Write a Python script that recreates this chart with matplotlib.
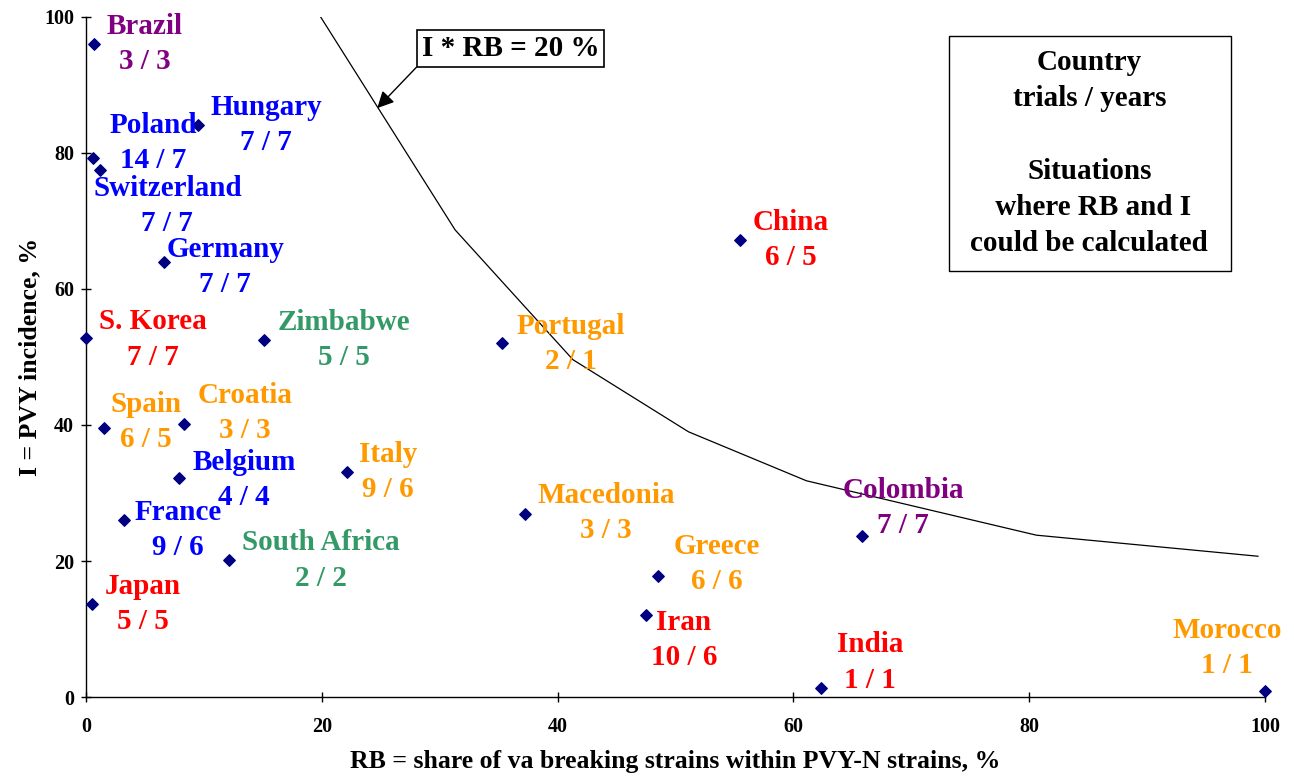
import matplotlib
matplotlib.use("Agg")
import matplotlib.pyplot as plt
from matplotlib.patches import Rectangle

plt.rcParams['font.family'] = ['Liberation Serif', 'DejaVu Serif']
plt.rcParams['font.weight'] = 'bold'

# data
countries = ["Brazil", "Hungary", "Poland", "Switzerland", "Germany", "S. Korea",
             "Zimbabwe", "Spain", "Croatia", "Belgium", "France", "South Africa",
             "Japan", "Italy", "Portugal", "Macedonia", "Greece", "Iran",
             "China", "Colombia", "India", "Morocco"]
trials_years = ["3 / 3", "7 / 7", "14 / 7", "7 / 7", "7 / 7", "7 / 7",
                "5 / 5", "6 / 5", "3 / 3", "4 / 4", "9 / 6", "2 / 2",
                "5 / 5", "9 / 6", "2 / 1", "3 / 3", "6 / 6", "10 / 6",
                "6 / 5", "7 / 7", "1 / 1", "1 / 1"]
rb = [0.65, 9.5, 0.6, 1.2, 6.6, 0.0, 15.1, 1.55, 8.35, 7.9, 3.2, 12.1,
      0.5, 22.1, 35.3, 37.2, 48.5, 47.5, 55.5, 65.8, 62.3, 100.0]
incidence = [96.0, 84.1, 79.3, 77.5, 64.0, 52.8, 52.5, 39.6, 40.2, 32.2, 26.0, 20.1,
             13.7, 33.1, 52.0, 26.9, 17.8, 12.1, 67.2, 23.7, 1.3, 0.9]
groups = ["purple", "blue", "blue", "blue", "blue", "red",
          "green", "orange", "orange", "blue", "blue", "green",
          "red", "orange", "orange", "orange", "orange", "red",
          "red", "purple", "red", "orange"]

# I * RB = 20 % line as drawn
curve_rb = [19.9, 31.3, 41.3, 51.1, 61.1, 80.6, 99.4]
curve_i = [100.0, 68.7, 49.6, 39.0, 31.8, 23.8, 20.7]

group_colors = {"purple": "#800080", "blue": "#0000FF", "red": "#FF0000",
                "orange": "#FF9900", "green": "#339966"}

# where each label sits relative to its point (data units)
label_offsets = [(4.35, 0), (5.8, 0), (5.1, 2.2), (5.7, -5.3), (5.2, -0.8), (5.7, -0.2),
                 (6.8, 0), (3.55, 0.8), (5.15, 1.6), (5.5, -0.3), (4.6, -1.4), (7.8, 0),
                 (4.3, 0), (3.5, 0), (5.8, -0.1), (6.9, 0.2), (5.0, 1.8), (3.2, -3.7),
                 (4.3, 0), (3.5, 4.1), (4.2, 3.8), (-3.2, 6.3)]

fig = plt.figure(figsize=(12.94, 7.76), dpi=100)
ax = fig.add_axes([0.0665, 0.1018, 0.9111, 0.8763])

ax.plot(curve_rb, curve_i, color="black", lw=0.9, zorder=2)
ax.scatter(rb, incidence, marker="D", s=34, color="#000080", zorder=3, clip_on=False)

for name, ty, x, y, g, (dx, dy) in zip(countries, trials_years, rb, incidence, groups, label_offsets):
    ax.text(x + dx, y + dy, name + "\n" + ty, color=group_colors[g], fontsize=21,
            fontweight="bold", ha="center", va="center", linespacing=1.4, zorder=4)

ax.annotate("I * RB = 20 %", xy=(24.7, 86.6), xytext=(36.0, 95.4),
            fontsize=21, fontweight="bold", ha="center", va="center",
            bbox=dict(boxstyle="square,pad=0.17", fc="white", ec="black", lw=1.2),
            arrowprops=dict(arrowstyle="-|>", color="black", lw=1.0,
                            mutation_scale=25, relpos=(0, 0), shrinkA=0, shrinkB=0))

ax.add_patch(Rectangle((73.2, 62.6), 23.9, 34.6, fill=False, ec="black", lw=1.0,
                       clip_on=False, zorder=5))
ax.text(85.1, 80.0, "Country\ntrials / years\n\nSituations\n where RB and I\ncould be calculated",
        fontsize=21, fontweight="bold", ha="center", va="center", linespacing=1.43)

ax.set_xlim(0, 100)
ax.set_ylim(0, 100)
ax.set_xticks([0, 20, 40, 60, 80, 100])
ax.set_yticks([0, 20, 40, 60, 80, 100])
ax.spines["top"].set_visible(False)
ax.spines["right"].set_visible(False)
for s in ["left", "bottom"]:
    ax.spines[s].set_linewidth(1.0)
ax.tick_params(axis="both", direction="inout", length=7, width=1.0, labelsize=14.5)
ax.tick_params(axis="x", pad=11)
ax.tick_params(axis="y", pad=5)
for lab in ax.get_xticklabels() + ax.get_yticklabels():
    lab.set_fontweight("bold")

ax.set_xlabel("RB = share of va breaking strains within PVY-N strains, %",
              fontsize=18.5, fontweight="bold", labelpad=9)
ax.set_ylabel("I = PVY incidence, %", fontsize=18.5, fontweight="bold", labelpad=2)

fig.savefig("out.png", dpi=100)
